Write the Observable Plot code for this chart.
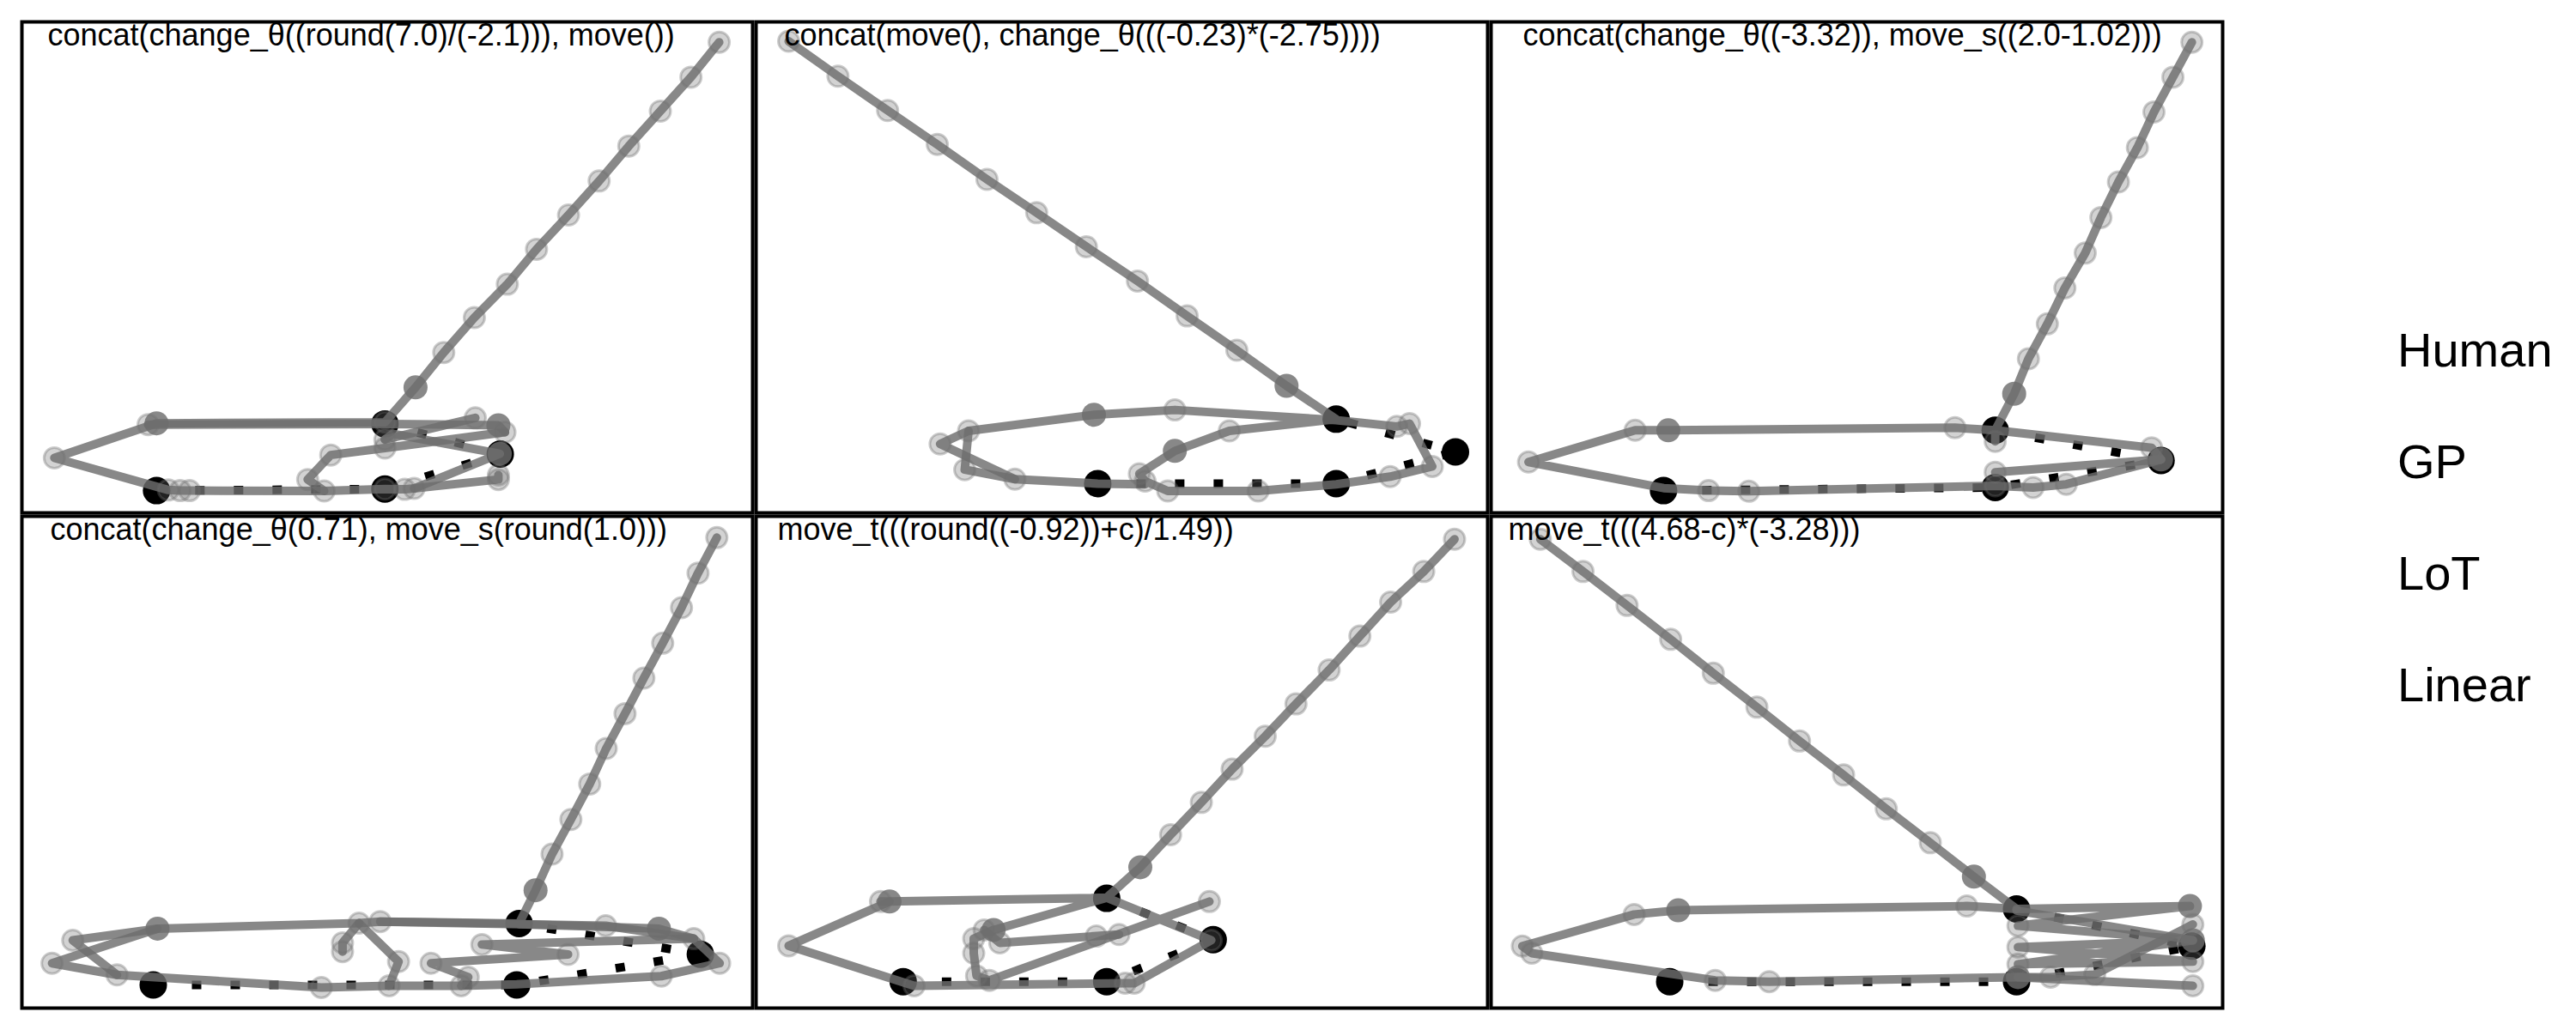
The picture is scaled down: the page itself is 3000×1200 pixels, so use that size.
<!DOCTYPE html>
<html><head><meta charset="utf-8">
<script src="https://cdn.jsdelivr.net/npm/d3@7"></script>
<script src="https://cdn.jsdelivr.net/npm/@observablehq/plot@0.6"></script>
<style>
body{margin:0;background:#fff;}
#wrap{position:relative;width:3000px;height:1200px;font-family:"Liberation Sans",Arial,Helvetica,sans-serif;}
.panel{position:absolute;}
.leg{position:absolute;left:2792px;font-size:56px;line-height:56px;color:#000;white-space:nowrap;}
</style></head><body><div id="wrap"></div>
<script>
// ---- data (sketch units of each panel; y grows downward) ----
const titles = [
  "concat(change_θ((round(7.0)/(-2.1))), move())",
  "concat(move(), change_θ(((-0.23)*(-2.75))))",
  "concat(change_θ((-3.32)), move_s((2.0-1.02)))",
  "concat(change_θ(0.71), move_s(round(1.0)))",
  "move_t(((round((-0.92))+c)/1.49))",
  "move_t(((4.68-c)*(-3.28)))"
];
const legendLabels = ["Human", "GP", "LoT", "Linear"];

const human1 = [[295,1490],[780,1485],[1025,1375],[780,1280]];
const human2 = [[731,1468],[1235,1468],[1487,1368],[1235,1265]];
const human3 = [[375,1490],[1075,1480],[1425,1395],[1075,1300]];
const human4 = [[288,1480],[1060,1480],[1450,1385],[1065,1290]];
const human5 = [[320,1470],[750,1470],[975,1340],[750,1212]];
const human6 = [[388,1470],[1120,1470],[1490,1360],[1120,1245]];

// model trajectories: segments of [x, y, kind]; kind l = light marker, d = dark marker, - = none
const model1 = [
  [[1490,78,"l"],[1430,188,"l"],[1365,295,"l"],[1298,405,"l"],[1235,515,"l"],[1170,622,"l"],[1102,730,"l"],[1040,840,"l"],[970,945,"l"],[905,1055,"l"],[845,1165,"d"],[780,1275,"l"],[295,1278,"d"],[78,1387,"l"],[320,1488,"l"],[345,1490,"l"],[365,1490,"l"],[651,1491,"l"],[780,1485,"l"],[822,1486,"l"],[842,1483,"l"],[1024,1374,"d"],[797,1311,"-"],[780,1329,"l"]],
  [[277,1282,"l"],[780,1280,"-"],[1021,1284,"d"],[1035,1306,"l"]],
  [[651,1491,"-"],[616,1455,"l"],[665,1378,"l"],[780,1356,"l"],[1035,1306,"-"]],
  [[780,1329,"-"],[972,1261,"l"]],
  [[842,1483,"-"],[1021,1455,"l"],[1021,1441,"l"]]
];
const model2 = [
  [[78,75,"l"],[182,185,"l"],[287,293,"l"],[392,400,"l"],[497,510,"l"],[602,615,"l"],[707,722,"l"],[815,830,"l"],[920,940,"l"],[1025,1048,"l"],[1130,1160,"d"],[1235,1265,"-"],[1009,1302,"l"],[894,1365,"d"],[819,1437,"l"],[831,1460,"l"],[879,1491,"l"],[1070,1491,"l"],[1235,1470,"-"],[1349,1446,"l"],[1438,1414,"l"],[1390,1279,"l"],[1363,1288,"l"],[1235,1268,"-"],[894,1236,"l"],[723,1251,"d"],[458,1302,"l"],[398,1343,"l"],[556,1454,"l"],[731,1468,"-"],[831,1470,"-"]],
  [[458,1302,"-"],[450,1424,"l"],[556,1454,"-"]]
];
const model3 = [
  [[1490,78,"l"],[1450,188,"l"],[1410,298,"l"],[1375,410,"l"],[1335,518,"l"],[1298,630,"l"],[1265,742,"l"],[1222,852,"l"],[1185,965,"l"],[1145,1075,"l"],[1115,1185,"d"],[1075,1300,"-"],[990,1292,"l"],[385,1300,"d"],[315,1300,"l"],[90,1400,"l"],[375,1482,"-"],[470,1490,"l"],[555,1492,"l"],[1075,1475,"l"],[1155,1480,"l"],[1225,1470,"l"],[1425,1392,"d"],[1405,1355,"l"],[1075,1300,"-"],[1075,1335,"l"]],
  [[1075,1432,"l"],[1425,1392,"-"]]
];
const model4 = [
  [[1485,95,"l"],[1445,205,"l"],[1410,312,"l"],[1370,422,"l"],[1330,530,"l"],[1290,640,"l"],[1250,748,"l"],[1215,858,"l"],[1175,968,"l"],[1135,1075,"l"],[1100,1187,"d"],[1065,1290,"-"],[770,1284,"l"],[725,1289,"l"],[297,1306,"d"],[117,1342,"l"],[211,1449,"l"],[645,1488,"l"],[789,1483,"l"],[942,1483,"l"],[1060,1478,"-"],[1367,1453,"l"],[1491,1413,"l"],[1436,1337,"l"],[1362,1306,"d"],[1065,1292,"-"]],
  [[297,1306,"-"],[73,1413,"l"],[211,1449,"-"]],
  [[725,1289,"-"],[690,1350,"l"],[690,1377,"l"]],
  [[725,1289,"-"],[809,1408,"l"],[789,1483,"-"]],
  [[770,1284,"-"],[1249,1297,"l"],[1436,1337,"-"]],
  [[942,1483,"-"],[957,1456,"l"],[878,1413,"l"],[1169,1386,"l"],[986,1355,"l"],[1436,1337,"-"]]
];
const model5 = [
  [[1485,100,"l"],[1420,200,"l"],[1350,295,"l"],[1285,400,"l"],[1220,505,"l"],[1150,610,"l"],[1085,710,"l"],[1015,812,"l"],[950,915,"l"],[885,1015,"l"],[821,1116,"d"],[750,1210,"-"],[291,1222,"d"],[78,1359,"l"],[343,1483,"l"],[789,1475,"l"],[808,1475,"l"],[971,1342,"l"],[750,1210,"-"],[511,1310,"d"],[469,1337,"l"],[469,1382,"l"],[475,1452,"l"],[502,1466,"l"],[967,1222,"l"]],
  [[491,1310,"l"],[524,1350,"l"],[728,1329,"l"],[776,1324,"l"]],
  [[272,1222,"l"],[291,1222,"-"]]
];
const model6 = [
  [[115,100,"l"],[205,200,"l"],[298,305,"l"],[390,410,"l"],[480,515,"l"],[572,620,"l"],[662,725,"l"],[755,830,"l"],[845,935,"l"],[938,1040,"l"],[1030,1145,"d"],[1120,1245,"-"],[1015,1236,"l"],[406,1249,"d"],[313,1262,"l"],[77,1360,"l"],[97,1382,"l"],[484,1466,"l"],[598,1470,"l"],[1123,1456,"d"],[1192,1456,"l"],[1285,1448,"l"],[1492,1293,"l"]],
  [[1120,1245,"-"],[1486,1236,"d"],[1123,1297,"l"],[1492,1342,"d"],[1123,1363,"l"],[1492,1408,"l"],[1123,1416,"l"],[1492,1342,"-"]],
  [[1123,1456,"-"],[1492,1483,"l"]],
  [[1120,1250,"-"],[1492,1342,"-"]]
];

const humans = [human1, human2, human3, human4, human5, human6];
const models = [model1, model2, model3, model4, model5, model6];

// ---- layout ----
const cols = [[23,878],[878,1734],[1734,2590]];
const rows = [[23,599],[599,1176]];
const xDomains = [[9,1561],[9,1555],[11,1555]];
const yDomains = [[14,1560],[29,1552]];
const titleDx = [30,33,37,33,25,20];
const legendBaselines = [427,557,687,817];
const FONT = "'Liberation Sans', Arial, Helvetica, sans-serif";
const GRAY = "#6e6e6e";

const wrap = document.getElementById("wrap");

for (let i = 0; i < 6; i++) {
  const c = i % 3, r = Math.floor(i / 3);
  const W = cols[c][1] - cols[c][0];
  const H = rows[r][1] - rows[r][0];
  const hum = humans[i].map(([x, y]) => ({x, y}));
  const mod = models[i].flatMap((seg, s) => seg.map(([x, y, k]) => ({seg: s, x, y, k})));
  const chart = Plot.plot({
    width: W, height: H, margin: 2,
    x: {domain: xDomains[c], axis: null},
    y: {domain: yDomains[r], reverse: true, axis: null},
    style: {background: "transparent", fontFamily: FONT, overflow: "visible"},
    marks: [
      Plot.line(hum, {x: "x", y: "y", stroke: "black", strokeWidth: 10, strokeDasharray: "11,34", strokeLinecap: "butt"}),
      Plot.dot(hum, {x: "x", y: "y", r: 16, fill: "black"}),
      Plot.dot(mod.filter(d => d.k === "l"), {x: "x", y: "y", r: 12, fill: GRAY, fillOpacity: 0.3, stroke: GRAY, strokeOpacity: 0.35, strokeWidth: 3}),
      Plot.line(mod, {x: "x", y: "y", z: "seg", stroke: GRAY, strokeOpacity: 0.82, strokeWidth: 10, strokeLinejoin: "round"}),
      Plot.dot(mod.filter(d => d.k === "d"), {x: "x", y: "y", r: 14, fill: GRAY, fillOpacity: 0.82}),
      Plot.frame({stroke: "black", strokeWidth: 4}),
      Plot.text([titles[i]], {frameAnchor: "top-left", dx: titleDx[i], dy: 2, text: d => d, fontSize: 36, textAnchor: "start", lineAnchor: "top", fill: "black", fontFamily: FONT})
    ]
  });
  const holder = document.createElement("div");
  holder.className = "panel";
  holder.style.left = cols[c][0] + "px";
  holder.style.top = rows[r][0] + "px";
  holder.appendChild(chart);
  wrap.appendChild(holder);
}

legendLabels.forEach((t, j) => {
  const d = document.createElement("div");
  d.className = "leg";
  d.style.top = (legendBaselines[j] - 47) + "px";
  d.textContent = t;
  wrap.appendChild(d);
});
</script>
</body></html>
